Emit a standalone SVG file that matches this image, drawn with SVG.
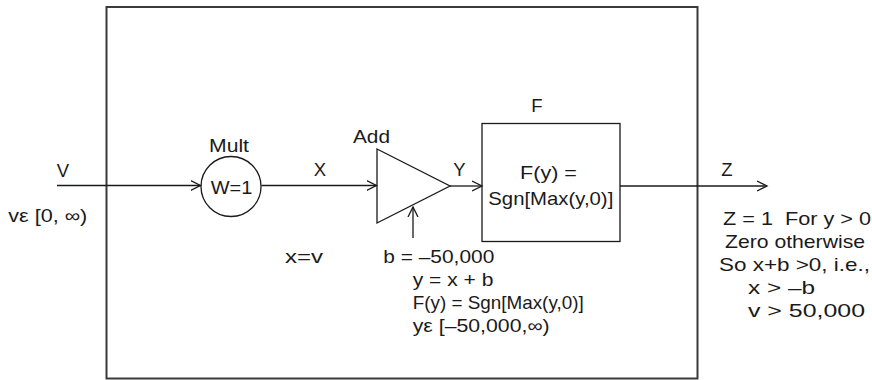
<svg xmlns="http://www.w3.org/2000/svg" width="872" height="380" viewBox="0 0 872 380">
<style>
text{font-family:"Liberation Sans",Arial,sans-serif;font-size:18.5px;fill:#1a1a1a}
.ln{stroke:#1a1a1a;stroke-width:1.3;fill:none}
.frame{stroke:#3a3a3a;stroke-width:2;fill:none}
</style>
<defs>
<marker id="arr" markerUnits="userSpaceOnUse" markerWidth="12" markerHeight="12" refX="10" refY="5" orient="auto" viewBox="0 0 12 10">
<path d="M0,0 L10,5 L0,10" fill="none" stroke="#1a1a1a" stroke-width="1.3"/>
</marker>
</defs>
<rect class="frame" x="106.5" y="7" width="591" height="371.5"/>
<g id="connectors">
<line class="ln" x1="57" y1="185.5" x2="200.5" y2="185.5" marker-end="url(#arr)"/>
<line class="ln" x1="261.5" y1="185.5" x2="376.5" y2="185.5" marker-end="url(#arr)"/>
<line class="ln" x1="450" y1="186" x2="482" y2="186" marker-end="url(#arr)"/>
<line class="ln" x1="620" y1="186" x2="767" y2="186" marker-end="url(#arr)"/>
<line class="ln" x1="413" y1="238" x2="413" y2="207" marker-end="url(#arr)"/>
</g>
<g id="input">
<text x="63" y="177" text-anchor="middle">V</text>
<text x="8.3" y="222" textLength="79" lengthAdjust="spacingAndGlyphs">vε [0, ∞)</text>
</g>
<g id="mult">
<circle class="ln" cx="231" cy="186.5" r="30"/>
<text x="209" y="152" textLength="40" lengthAdjust="spacingAndGlyphs">Mult</text>
<text x="210.7" y="194" textLength="41.6" lengthAdjust="spacingAndGlyphs">W=1</text>
</g>
<text x="320" y="176" text-anchor="middle">X</text>
<g id="add">
<polygon class="ln" points="377,149 377,223 450,186"/>
<text x="353" y="143" textLength="37" lengthAdjust="spacingAndGlyphs">Add</text>
</g>
<text x="459.5" y="176" text-anchor="middle">Y</text>
<g id="f">
<rect class="ln" x="482" y="123.5" width="138" height="118"/>
<text x="537" y="112" text-anchor="middle">F</text>
<text x="520" y="179" textLength="57" lengthAdjust="spacingAndGlyphs">F(y) =</text>
<text x="488.3" y="205" textLength="125" lengthAdjust="spacingAndGlyphs">Sgn[Max(y,0)]</text>
</g>
<text x="727" y="176" text-anchor="middle">Z</text>
<g id="notes-mid">
<text x="285" y="263" textLength="38" lengthAdjust="spacingAndGlyphs">x=v</text>
<text x="383.3" y="263" textLength="111" lengthAdjust="spacingAndGlyphs">b = –50,000</text>
<text x="412.7" y="286" textLength="80.7" lengthAdjust="spacingAndGlyphs">y = x + b</text>
<text x="412.7" y="309" textLength="171" lengthAdjust="spacingAndGlyphs">F(y) = Sgn[Max(y,0)]</text>
<text x="412.7" y="332" textLength="137" lengthAdjust="spacingAndGlyphs">yε [–50,000,∞)</text>
</g>
<g id="notes-right">
<text x="723" y="225" textLength="148" lengthAdjust="spacingAndGlyphs" xml:space="preserve">Z = 1  For y &gt; 0</text>
<text x="725" y="248" textLength="140" lengthAdjust="spacingAndGlyphs">Zero otherwise</text>
<text x="719" y="271" textLength="151" lengthAdjust="spacingAndGlyphs">So x+b &gt;0, i.e.,</text>
<text x="748" y="294" textLength="67" lengthAdjust="spacingAndGlyphs">x &gt; –b</text>
<text x="748" y="317" textLength="117" lengthAdjust="spacingAndGlyphs">v &gt; 50,000</text>
</g>
</svg>
